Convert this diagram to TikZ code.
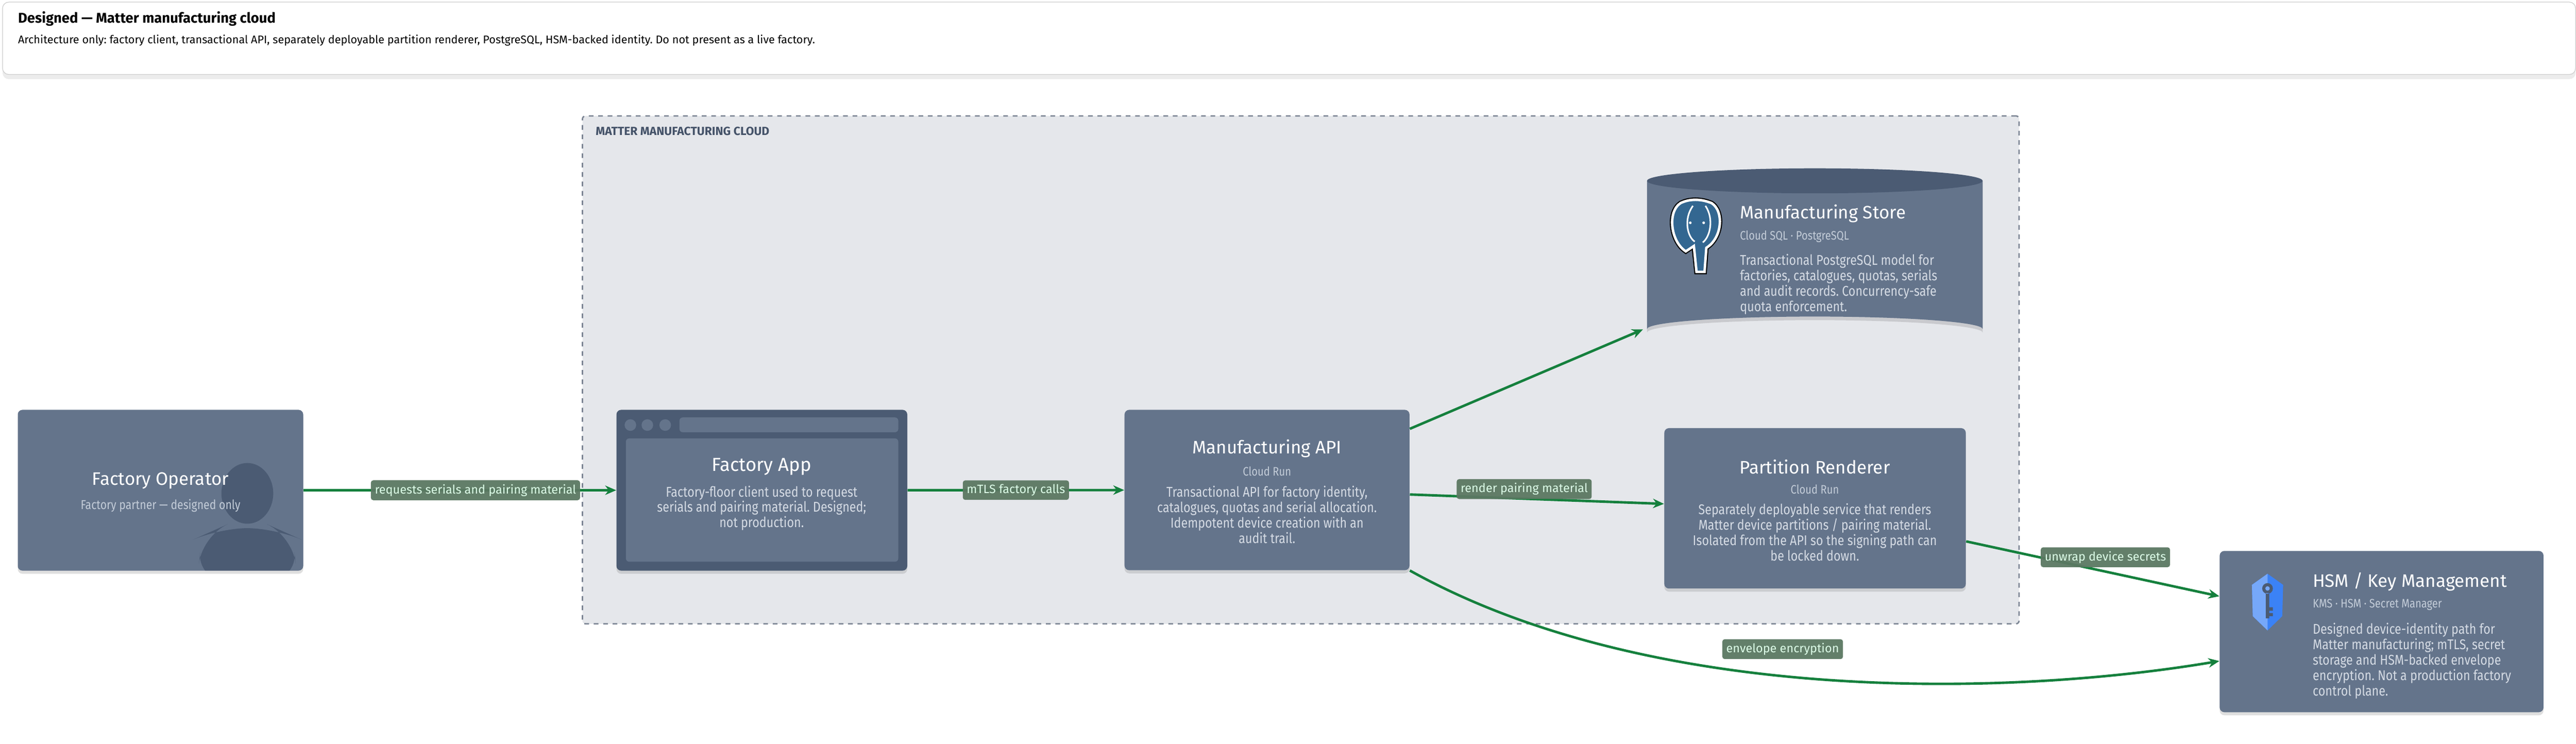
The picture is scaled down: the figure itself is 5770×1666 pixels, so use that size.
\documentclass[tikz,border=0pt]{standalone}
\usepackage{fontspec}
\setmainfont{Fira Sans}
\newfontfamily\narrow{Fira Sans}[FakeStretch=0.85]
\usepackage{tikz}
\usetikzlibrary{shadows,arrows.meta}
\frenchspacing
\definecolor{slate}{HTML}{64748B}
\definecolor{slatedark}{HTML}{4B5B73}
\definecolor{zone}{HTML}{E5E7EB}
\definecolor{zoneline}{HTML}{7C8594}
\definecolor{desc}{HTML}{D5DBE4}
\definecolor{subc}{HTML}{C3CCD8}
\definecolor{edge}{HTML}{15803D}
\definecolor{tagfill}{HTML}{5B7862}
\definecolor{tagtext}{HTML}{DCFCE7}
\definecolor{pgblue}{HTML}{336791}
\definecolor{keyblue}{HTML}{3B82F6}
\newcommand{\nohy}{\hyphenpenalty=10000\exhyphenpenalty=10000}
\tikzstyle{card} = [rectangle, fill=slate, rounded corners=3pt,
drop shadow={shadow xshift=0pt, shadow yshift=-2pt, opacity=0.25}]
\tikzstyle{title} = [text=white, font=\fontsize{11.5}{13}\selectfont]
\tikzstyle{sub} = [text=subc, font=\narrow\fontsize{7.8}{9}\selectfont]
\tikzstyle{desc} = [text=desc, font=\narrow\fontsize{9}{9.8}\selectfont\nohy, align=center]
\tikzstyle{descl} = [text=desc, font=\narrow\fontsize{9}{9.8}\selectfont\nohy, align=left]
\tikzstyle{tag} = [fill=tagfill, fill opacity=0.95, text opacity=1, text=tagtext,
rounded corners=1.5pt, inner sep=2.5pt, font=\fontsize{7.7}{9}\selectfont]
\tikzstyle{line} = [draw=edge, line width=1.6pt, -{Stealth[length=7pt,width=6pt]}]

\begin{document}
\begin{tikzpicture}[x=0.01cm, y=-0.01cm]
    \useasboundingbox (0,0) rectangle (5770,1666);
    % Header
    \node [draw=gray!40, fill=white, rounded corners=4pt, minimum width=57.6cm,
    minimum height=1.62cm, anchor=north west,
    drop shadow={shadow xshift=0pt, shadow yshift=-3pt, opacity=0.15}] (header) at (5,4) {};
    \node [anchor=west, font=\bfseries\fontsize{9}{11}\selectfont] (htitle) at (28,42)
    {Designed — Matter manufacturing cloud};
    \node [anchor=west, font=\fontsize{7.1}{8}\selectfont] (hsub) at (28,90)
    {Architecture only: factory client, transactional API, separately deployable partition renderer, PostgreSQL, HSM-backed identity. Do not present as a live factory.};

    % Zone
    \node [draw=zoneline, fill=zone, dashed, line width=0.9pt, rounded corners=2pt,
    minimum width=32.16cm, minimum height=11.37cm, anchor=north west] (zone) at (1303,258) {};
    \node [anchor=west, text=slatedark!90!black, font=\bfseries\fontsize{7.5}{9}\selectfont] (zlabel)
    at (1322,294) {MATTER MANUFACTURING CLOUD};

    % Factory Operator
    \node [card, minimum width=6.39cm, minimum height=3.6cm] (operator) at (359.5,1098) {};
    \begin{scope}
      \clip [rounded corners=3pt] (40,918) rectangle (679,1278);
      \fill [slatedark] (554,1105) ellipse (58 and 68);
      \fill [slatedark, rounded corners=18pt] (442,1300) -- (452,1200) -- (490,1183)
        -- (618,1183) -- (656,1200) -- (666,1300) -- cycle;
    \end{scope}
    \node [title] (optitle) at (359.5,1077) {Factory Operator};
    \node [sub, font=\narrow\fontsize{8.2}{9}\selectfont] (opsub) at (359.5,1133) {Factory partner — designed only};

    % Factory App
    \node [card, fill=slatedark, minimum width=6.51cm, minimum height=3.6cm] (app) at (1706.5,1098) {};
    \foreach \dx in {1412,1450,1490}
      \fill [slate] (\dx,952) circle (13);
    \fill [slate, rounded corners=2pt] (1522,935) rectangle (2012,968);
    \fill [slate, rounded corners=2pt] (1402,982) rectangle (2012,1258);
    \node [title, font=\fontsize{12}{14}\selectfont] (apptitle) at (1706,1045) {Factory App};
    \node [desc] (appdesc) at (1706,1138)
    {Factory-floor client used to request\\ serials and pairing material. Designed;\\ not production.};

    % Manufacturing API
    \node [card, minimum width=6.38cm, minimum height=3.59cm] (api) at (2838,1097.5) {};
    \node [title] (apititle) at (2838,1005) {Manufacturing API};
    \node [sub] (apisub) at (2838,1056) {Cloud Run};
    \node [desc] (apidesc) at (2838,1153)
    {Transactional API for factory identity,\\ catalogues, quotas and serial allocation.\\ Idempotent device creation with an\\ audit trail.};

    % Manufacturing Store
    \node [minimum width=7.52cm, minimum height=3.6cm] (store) at (4065,557) {};
    \fill [black, opacity=0.12] (3689,409) -- (3689,745)
      arc [start angle=180, end angle=360, x radius=376, y radius=28] -- (4441,409) -- cycle;
    \fill [slate] (3689,405) -- (3689,737)
      arc [start angle=180, end angle=360, x radius=376, y radius=28] -- (4441,405) -- cycle;
    \fill [slatedark] (4065,405) ellipse (376 and 28);
    \begin{scope}[shift={(3800,511)}]
      \draw [black, line width=3pt] (-36,-56) .. controls (-66,-36) and (-58,30) .. (-24,52)
        -- (-6,40) -- (0,98) -- (18,98) -- (22,44) .. controls (58,22) and (62,-38) .. (34,-56)
        .. controls (10,-66) and (-16,-66) .. (-36,-56) -- cycle;
      \draw [white, line width=1.6pt, fill=pgblue] (-36,-56) .. controls (-66,-36) and (-58,30) .. (-24,52)
        -- (-6,40) -- (0,98) -- (18,98) -- (22,44) .. controls (58,22) and (62,-38) .. (34,-56)
        .. controls (10,-66) and (-16,-66) .. (-36,-56) -- cycle;
      \draw [white, line width=1pt] (-8,-50) .. controls (-30,-20) and (-20,20) .. (-4,30)
        (20,-50) .. controls (40,-20) and (30,20) .. (14,32);
      \fill [white] (-14,-12) circle (3) (16,-12) circle (3);
    \end{scope}
    \node [title, anchor=west] (storetitle) at (3885,478) {Manufacturing Store};
    \node [sub, anchor=west] (storesub) at (3885,530) {Cloud SQL · PostgreSQL};
    \node [descl, anchor=north west] (storedesc) at (3885,557)
    {Transactional PostgreSQL model for\\ factories, catalogues, quotas, serials\\ and audit records. Concurrency-safe\\ quota enforcement.};

    % Partition Renderer
    \node [card, minimum width=6.75cm, minimum height=3.59cm] (renderer) at (4065.5,1138.5) {};
    \node [title] (rentitle) at (4065,1046) {Partition Renderer};
    \node [sub] (rensub) at (4065,1096) {Cloud Run};
    \node [desc] (rendesc) at (4065,1192)
    {Separately deployable service that renders\\ Matter device partitions / pairing material.\\ Isolated from the API so the signing path can\\ be locked down.};

    % HSM / Key Management
    \node [card, minimum width=7.25cm, minimum height=3.61cm] (hsm) at (5334.5,1414.5) {};
    \begin{scope}[shift={(5079,1340)}]
      \fill [keyblue] (0,-55) -- (35,-30) -- (33,40) -- (0,72) -- (-33,40) -- (-35,-30) -- cycle;
      \fill [keyblue!70!white] (0,-55) -- (-35,-30) -- (-33,40) -- (0,72) -- cycle;
      \fill [slatedark] (0,-22) circle (12) (-4,-12) rectangle (4,45) (4,20) rectangle (12,28) (4,33) rectangle (12,40);
      \fill [keyblue!70!white] (0,-22) circle (5);
    \end{scope}
    \node [title, anchor=west] (hsmtitle) at (5168,1303) {HSM / Key Management};
    \node [sub, anchor=west] (hsmsub) at (5168,1354) {KMS · HSM · Secret Manager};
    \node [descl, anchor=north west] (hsmdesc) at (5168,1383)
    {Designed device-identity path for\\ Matter manufacturing; mTLS, secret\\ storage and HSM-backed envelope\\ encryption. Not a production factory\\ control plane.};

    % Draw edges
    \path [line] (operator) -- node [tag, pos=0.55] {requests serials and pairing material} (app);
    \path [line] (app) -- node [tag] {mTLS factory calls} (api);
    \path [line] ([yshift=1.37cm]api.east) -- ([xshift=-0.08cm]store.south west);
    \path [line] ([yshift=-0.1cm]api.east) -- node [tag, pos=0.45, above=-1pt] {render pairing material} ([yshift=0.1cm]renderer.west);
    \path [line] ([yshift=-0.74cm]renderer.east) -- node [tag, pos=0.55, above=2pt] {unwrap device secrets} ([yshift=0.79cm]hsm.west);
    \path [line] (api.south east) .. controls (3700,1580) and (4500,1560) .. node [tag, pos=0.45, above=0.35cm] {envelope encryption} ([yshift=-0.66cm]hsm.west);
\end{tikzpicture}
\end{document}
